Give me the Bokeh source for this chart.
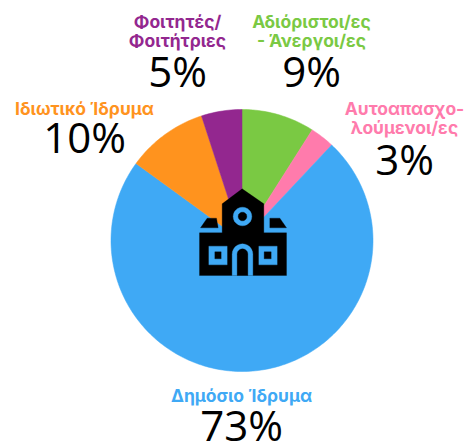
from bokeh.plotting import figure
from bokeh.embed import file_html
from bokeh.resources import INLINE
from bokeh.core.properties import value
from bokeh.models import Range1d
import math

categories = ["Αδιόριστοι/ες - Άνεργοι/ες", "Αυτοαπασχολούμενοι/ες", "Δημόσιο Ίδρυμα", "Ιδιωτικό Ίδρυμα", "Φοιτητές/Φοιτήτριες"]
shares = [9, 3, 73, 10, 5]
colors = ["#7AC943", "#FF7BAC", "#3FA9F5", "#FF931E", "#93278F"]
percent_labels = ["9%", "3%", "73%", "10%", "5%"]
name_lines = [["Αδιόριστοι/ες", "- Άνεργοι/ες"], ["Αυτοαπασχο-", "λούμενοι/ες"], ["Δημόσιο Ίδρυμα"], ["Ιδιωτικό Ίδρυμα"], ["Φοιτητές/", "Φοιτήτριες"]]

W, H = 469, 443
p = figure(width=W, height=H, x_range=Range1d(0, W), y_range=Range1d(H, 0),
           output_backend="svg", toolbar_location=None, min_border=0, outline_line_color=None)
p.axis.visible = False
p.grid.visible = False

CX, CY, R = 241.5, 240, 131
cum = 0
total = sum(shares)
for s, c in zip(shares, colors):
    a0 = cum / total * 2 * math.pi
    cum += s
    a1 = cum / total * 2 * math.pi
    n = max(4, int(s * 3))
    xs = [CX] + [CX + R * math.sin(a0 + (a1 - a0) * i / n) for i in range(n + 1)]
    ys = [CY] + [CY - R * math.cos(a0 + (a1 - a0) * i / n) for i in range(n + 1)]
    p.patch(xs, ys, fill_color=c, line_color=c, line_width=0.5)

# label anchor positions: (centre x, baseline of each name line, baseline of percent)
layout = [
    (311, [21, 40], 70),
    (404, [108, 127], 158),
    (241, [395], 424),
    (84, [108], 136),
    (177, [21, 40], 70),
]
for (lx, bases, pb), names, pct, c in zip(layout, name_lines, percent_labels, colors):
    for b, t in zip(bases, names):
        p.text([lx], [b], text=[t], text_color=c, text_font=value("Inter"), text_font_style="bold",
               text_font_size="17.5px", text_align="center", text_baseline="alphabetic")
    p.text([lx], [pb], text=[pct], text_color="black", text_font=value("Open Sans"),
           text_font_size="42px", text_align="center", text_baseline="alphabetic")

# school icon
K, B = "#000000", "#3FA9F5"
def poly(pts, col):
    p.patch([a for a, _ in pts], [b for _, b in pts], fill_color=col, line_color=col, line_width=0.3)
def c3(x, y):
    return (180 + x / 3, 170 + y / 3)
poly([c3(*q) for q in [(57, 315), (57, 187), (125, 187), (125, 100), (185, 55), (250, 100), (250, 187), (318, 187), (318, 315)]], K)
poly([c3(*q) for q in [(60, 172), (80, 143), (108, 143), (113, 172)]], K)
poly([c3(*q) for q in [(268, 172), (268, 143), (298, 143), (318, 172)]], K)
def circle(cx, cy, r, col):
    poly([c3(cx + r * math.cos(t / 24 * 2 * math.pi), cy + r * math.sin(t / 24 * 2 * math.pi)) for t in range(24)], col)
circle(186, 138, 28, B)
circle(186, 138, 13, K)
poly([c3(*q) for q in [(85, 227), (140, 227), (140, 283), (85, 283)]], B)
poly([c3(*q) for q in [(103, 244), (122, 244), (122, 265), (103, 265)]], K)
poly([c3(*q) for q in [(235, 227), (290, 227), (290, 283), (235, 283)]], B)
poly([c3(*q) for q in [(251, 244), (272, 244), (272, 265), (251, 265)]], K)
def arch(x0, x1, top, col):
    r = (x1 - x0) / 2
    pts = [(x0, 315)] + [((x0 + x1) / 2 - r * math.cos(t / 12 * math.pi), top + r - r * math.sin(t / 12 * math.pi)) for t in range(13)] + [(x1, 315)]
    poly([c3(*q) for q in pts], col)
arch(155, 217, 220, B)
arch(170, 202, 235, K)

open("out.html", "w").write(file_html(p, INLINE))
